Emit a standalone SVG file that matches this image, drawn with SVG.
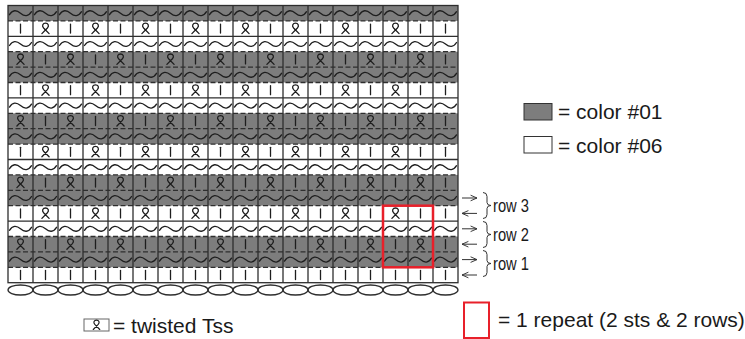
<svg xmlns="http://www.w3.org/2000/svg" xmlns:xlink="http://www.w3.org/1999/xlink" width="745" height="339" viewBox="0 0 745 339">
<style>
.grid{stroke:#2e2e2e;stroke-width:1.3;fill:none}
.dash{stroke:#2e2e2e;stroke-width:1.3;stroke-dasharray:5 2.5;fill:none}
.gray{fill:#7d7d7d}
.sym{stroke:#1e1e1e;stroke-width:1.3;fill:none;stroke-linecap:round}
.txt{font-family:"Liberation Sans",Arial,sans-serif;fill:#1a1a1a}
.arr{stroke:#333;stroke-width:1;fill:none}
.red{stroke:#e8202a;stroke-width:2.5;fill:none}
</style>
<defs>
<path id="t" class="sym" d="M -11 1.5 C -8 -3.5 -4 -3.5 0 0 S 8 3.5 11 -1.5"/>
<line id="i" class="sym" x1="0" y1="-4.5" x2="0" y2="4.5"/>
<path id="k" class="sym" d="M -3.6 5 L 1.9 -0.6 C 4 -3 2.6 -5.4 0 -5.4 C -2.6 -5.4 -4 -3 -1.9 -0.6 L 3.6 5"/>
<g id="rowT">
<use xlink:href="#t" x="20.5"/><use xlink:href="#t" x="45.5"/><use xlink:href="#t" x="70.5"/><use xlink:href="#t" x="95.5"/><use xlink:href="#t" x="120.5"/><use xlink:href="#t" x="145.5"/><use xlink:href="#t" x="170.5"/><use xlink:href="#t" x="195.5"/><use xlink:href="#t" x="220.5"/><use xlink:href="#t" x="245.5"/><use xlink:href="#t" x="270.5"/><use xlink:href="#t" x="295.5"/><use xlink:href="#t" x="320.5"/><use xlink:href="#t" x="345.5"/><use xlink:href="#t" x="370.5"/><use xlink:href="#t" x="395.5"/><use xlink:href="#t" x="420.5"/><use xlink:href="#t" x="445.5"/>
</g>
<g id="rowIK">
<use xlink:href="#i" x="20.5"/><use xlink:href="#k" x="45.5"/><use xlink:href="#i" x="70.5"/><use xlink:href="#k" x="95.5"/><use xlink:href="#i" x="120.5"/><use xlink:href="#k" x="145.5"/><use xlink:href="#i" x="170.5"/><use xlink:href="#k" x="195.5"/><use xlink:href="#i" x="220.5"/><use xlink:href="#k" x="245.5"/><use xlink:href="#i" x="270.5"/><use xlink:href="#k" x="295.5"/><use xlink:href="#i" x="320.5"/><use xlink:href="#k" x="345.5"/><use xlink:href="#i" x="370.5"/><use xlink:href="#k" x="395.5"/><use xlink:href="#i" x="420.5"/><use xlink:href="#i" x="445.5"/>
</g>
<g id="rowKI">
<use xlink:href="#k" x="20.5"/><use xlink:href="#i" x="45.5"/><use xlink:href="#k" x="70.5"/><use xlink:href="#i" x="95.5"/><use xlink:href="#k" x="120.5"/><use xlink:href="#i" x="145.5"/><use xlink:href="#k" x="170.5"/><use xlink:href="#i" x="195.5"/><use xlink:href="#k" x="220.5"/><use xlink:href="#i" x="245.5"/><use xlink:href="#k" x="270.5"/><use xlink:href="#i" x="295.5"/><use xlink:href="#k" x="320.5"/><use xlink:href="#i" x="345.5"/><use xlink:href="#k" x="370.5"/><use xlink:href="#i" x="395.5"/><use xlink:href="#k" x="420.5"/><use xlink:href="#i" x="445.5"/>
</g>
<g id="rowI">
<use xlink:href="#i" x="20.5"/><use xlink:href="#i" x="45.5"/><use xlink:href="#i" x="70.5"/><use xlink:href="#i" x="95.5"/><use xlink:href="#i" x="120.5"/><use xlink:href="#i" x="145.5"/><use xlink:href="#i" x="170.5"/><use xlink:href="#i" x="195.5"/><use xlink:href="#i" x="220.5"/><use xlink:href="#i" x="245.5"/><use xlink:href="#i" x="270.5"/><use xlink:href="#i" x="295.5"/><use xlink:href="#i" x="320.5"/><use xlink:href="#i" x="345.5"/><use xlink:href="#i" x="370.5"/><use xlink:href="#i" x="395.5"/><use xlink:href="#i" x="420.5"/><use xlink:href="#i" x="445.5"/>
</g>
<marker id="ah" viewBox="0 0 10 10" refX="9" refY="5" markerWidth="8" markerHeight="8" markerUnits="userSpaceOnUse" orient="auto">
<path d="M 1 1.5 L 9 5 L 1 8.5" fill="none" stroke="#333" stroke-width="1.2"/>
</marker>
</defs>
<rect width="745" height="339" fill="#fff"/>

<g id="chart">
<rect x="8" y="5.5" width="450" height="277.2" fill="#fff"/>
<rect class="gray" x="8" y="5.5" width="450" height="15.4"/>
<rect class="gray" x="8" y="51.7" width="450" height="30.8"/>
<rect class="gray" x="8" y="113.3" width="450" height="30.8"/>
<rect class="gray" x="8" y="174.9" width="450" height="30.8"/>
<rect class="gray" x="8" y="236.5" width="450" height="30.8"/>
<g id="h-solid" class="grid">
<line x1="8" y1="36.3" x2="458" y2="36.3"/><line x1="8" y1="97.9" x2="458" y2="97.9"/><line x1="8" y1="159.5" x2="458" y2="159.5"/><line x1="8" y1="221.1" x2="458" y2="221.1"/>
</g>
<g id="h-dash" class="dash">
<line x1="8" y1="20.9" x2="458" y2="20.9"/><line x1="8" y1="51.7" x2="458" y2="51.7"/><line x1="8" y1="67.1" x2="458" y2="67.1"/><line x1="8" y1="82.5" x2="458" y2="82.5"/><line x1="8" y1="113.3" x2="458" y2="113.3"/><line x1="8" y1="128.7" x2="458" y2="128.7"/><line x1="8" y1="144.1" x2="458" y2="144.1"/><line x1="8" y1="174.9" x2="458" y2="174.9"/><line x1="8" y1="190.3" x2="458" y2="190.3"/><line x1="8" y1="205.7" x2="458" y2="205.7"/><line x1="8" y1="236.5" x2="458" y2="236.5"/><line x1="8" y1="251.9" x2="458" y2="251.9"/><line x1="8" y1="267.3" x2="458" y2="267.3"/>
</g>
<g id="v-lines" class="grid">
<line x1="33" y1="5.5" x2="33" y2="282.7"/><line x1="58" y1="5.5" x2="58" y2="282.7"/><line x1="83" y1="5.5" x2="83" y2="282.7"/><line x1="108" y1="5.5" x2="108" y2="282.7"/><line x1="133" y1="5.5" x2="133" y2="282.7"/><line x1="158" y1="5.5" x2="158" y2="282.7"/><line x1="183" y1="5.5" x2="183" y2="282.7"/><line x1="208" y1="5.5" x2="208" y2="282.7"/><line x1="233" y1="5.5" x2="233" y2="282.7"/><line x1="258" y1="5.5" x2="258" y2="282.7"/><line x1="283" y1="5.5" x2="283" y2="282.7"/><line x1="308" y1="5.5" x2="308" y2="282.7"/><line x1="333" y1="5.5" x2="333" y2="282.7"/><line x1="358" y1="5.5" x2="358" y2="282.7"/><line x1="383" y1="5.5" x2="383" y2="282.7"/><line x1="408" y1="5.5" x2="408" y2="282.7"/><line x1="433" y1="5.5" x2="433" y2="282.7"/>
</g>
<rect class="grid" x="8" y="5.5" width="450" height="277.2"/>
<g id="stitches">
<use xlink:href="#rowT" y="13.2"/>
<use xlink:href="#rowIK" y="28.6"/>
<use xlink:href="#rowT" y="44"/>
<use xlink:href="#rowKI" y="59.4"/>
<use xlink:href="#rowT" y="74.8"/>
<use xlink:href="#rowIK" y="90.2"/>
<use xlink:href="#rowT" y="105.6"/>
<use xlink:href="#rowKI" y="121"/>
<use xlink:href="#rowT" y="136.4"/>
<use xlink:href="#rowIK" y="151.8"/>
<use xlink:href="#rowT" y="167.2"/>
<use xlink:href="#rowKI" y="182.6"/>
<use xlink:href="#rowT" y="198"/>
<use xlink:href="#rowIK" y="213.4"/>
<use xlink:href="#rowT" y="228.8"/>
<use xlink:href="#rowKI" y="244.2"/>
<use xlink:href="#rowT" y="259.6"/>
<use xlink:href="#rowI" y="275"/>
</g>
<g id="chain" class="grid" fill="#fff">
<ellipse cx="20.5" cy="290" rx="12.5" ry="5"/><ellipse cx="45.5" cy="290" rx="12.5" ry="5"/><ellipse cx="70.5" cy="290" rx="12.5" ry="5"/><ellipse cx="95.5" cy="290" rx="12.5" ry="5"/><ellipse cx="120.5" cy="290" rx="12.5" ry="5"/><ellipse cx="145.5" cy="290" rx="12.5" ry="5"/><ellipse cx="170.5" cy="290" rx="12.5" ry="5"/><ellipse cx="195.5" cy="290" rx="12.5" ry="5"/><ellipse cx="220.5" cy="290" rx="12.5" ry="5"/><ellipse cx="245.5" cy="290" rx="12.5" ry="5"/><ellipse cx="270.5" cy="290" rx="12.5" ry="5"/><ellipse cx="295.5" cy="290" rx="12.5" ry="5"/><ellipse cx="320.5" cy="290" rx="12.5" ry="5"/><ellipse cx="345.5" cy="290" rx="12.5" ry="5"/><ellipse cx="370.5" cy="290" rx="12.5" ry="5"/><ellipse cx="395.5" cy="290" rx="12.5" ry="5"/><ellipse cx="420.5" cy="290" rx="12.5" ry="5"/><ellipse cx="445.5" cy="290" rx="12.5" ry="5"/>
</g>
<rect id="repeat-box" class="red" x="383" y="205.7" width="50" height="61.6"/>
</g>

<g id="connectors">
<line class="arr" x1="462" y1="198" x2="477" y2="198" marker-end="url(#ah)"/>
<line class="arr" x1="477" y1="213.4" x2="462" y2="213.4" marker-end="url(#ah)"/>
<line class="arr" x1="462" y1="228.8" x2="477" y2="228.8" marker-end="url(#ah)"/>
<line class="arr" x1="477" y1="244.2" x2="462" y2="244.2" marker-end="url(#ah)"/>
<line class="arr" x1="462" y1="259.6" x2="477" y2="259.6" marker-end="url(#ah)"/>
<line class="arr" x1="477" y1="275" x2="462" y2="275" marker-end="url(#ah)"/>
</g>

<g id="row-labels">
<g id="row3">
<path class="arr" d="M 483 192.5 Q 487 192.5 487 196.5 L 487 202.5 Q 487 205.5 491 205.5 Q 487 205.5 487 208.5 L 487 214.5 Q 487 218.5 483 218.5"/>
<text class="txt" x="493" y="212" font-size="19" textLength="36" lengthAdjust="spacingAndGlyphs">row 3</text>
</g>
<g id="row2">
<path class="arr" d="M 483 221.5 Q 487 221.5 487 225.5 L 487 231.5 Q 487 234.5 491 234.5 Q 487 234.5 487 237.5 L 487 243.5 Q 487 247.5 483 247.5"/>
<text class="txt" x="493" y="241" font-size="19" textLength="36" lengthAdjust="spacingAndGlyphs">row 2</text>
</g>
<g id="row1">
<path class="arr" d="M 483 250.5 Q 487 250.5 487 254.5 L 487 260.5 Q 487 263.5 491 263.5 Q 487 263.5 487 266.5 L 487 272.5 Q 487 276.5 483 276.5"/>
<text class="txt" x="493" y="270" font-size="19" textLength="36" lengthAdjust="spacingAndGlyphs">row 1</text>
</g>
</g>

<g id="legend-color01">
<rect x="524" y="103.5" width="28" height="16.5" fill="#7d7d7d" stroke="#333" stroke-width="1"/>
<text class="txt" x="558" y="119" font-size="21">= color #01</text>
</g>
<g id="legend-color06">
<rect x="524" y="136.5" width="28" height="16.5" fill="#fff" stroke="#333" stroke-width="1"/>
<text class="txt" x="558" y="152.5" font-size="21">= color #06</text>
</g>
<g id="legend-twisted">
<rect x="84" y="319" width="25" height="12" fill="#fff" stroke="#666" stroke-width="1"/>
<use xlink:href="#k" transform="translate(96.5 325) scale(0.9)"/>
<text class="txt" x="113" y="333" font-size="21">= twisted Tss</text>
</g>
<g id="legend-repeat">
<rect x="464" y="302.5" width="25" height="35.5" fill="none" stroke="#e8202a" stroke-width="2"/>
<text class="txt" x="498" y="327" font-size="21">= 1 repeat (2 sts &amp; 2 rows)</text>
</g>
</svg>
